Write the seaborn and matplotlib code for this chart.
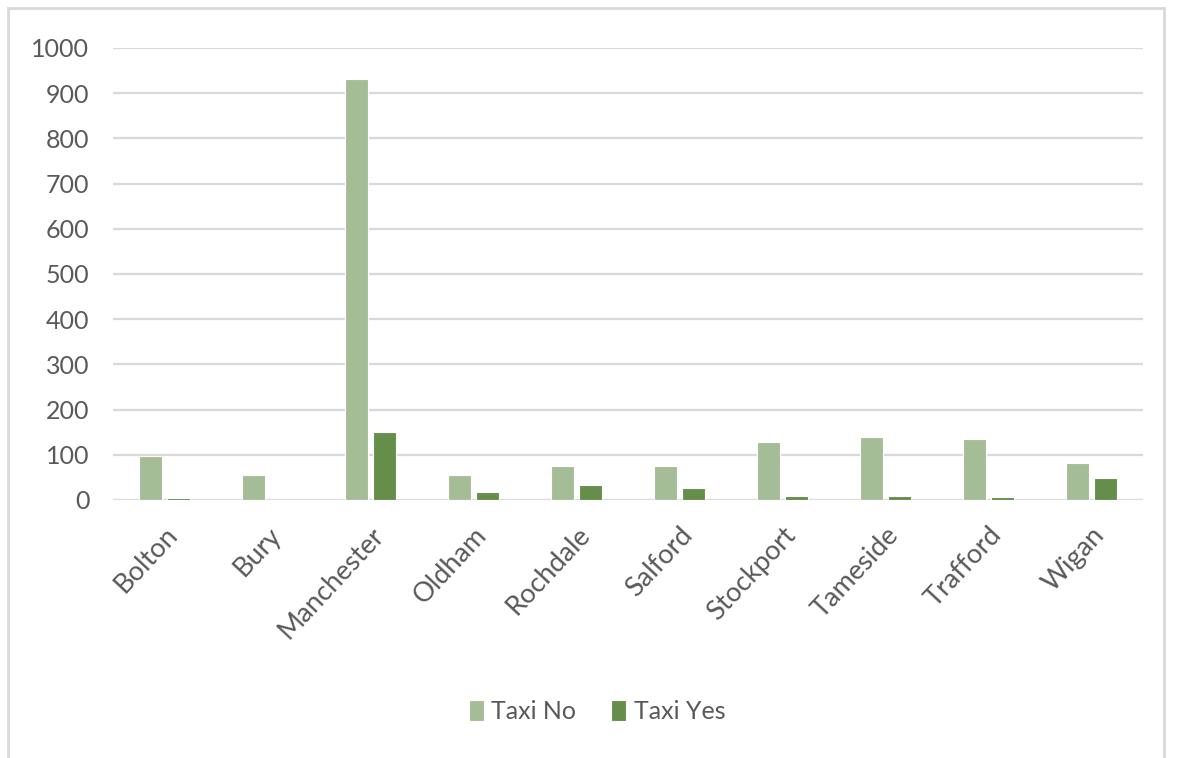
import matplotlib
matplotlib.use("Agg")
import matplotlib.pyplot as plt
from matplotlib.patches import Rectangle
import seaborn as sns
import pandas as pd

# Data
districts = ["Bolton", "Bury", "Manchester", "Oldham", "Rochdale",
             "Salford", "Stockport", "Tameside", "Trafford", "Wigan"]
taxi_no = [97, 55, 932, 55, 75, 75, 128, 139, 135, 82]
taxi_yes = [4, 0, 150, 18, 33, 26, 9, 9, 6, 48]
series = ["Taxi No", "Taxi Yes"]
colors = ["#A3C48F", "#62993D"]


def build_frame():
    """Long-form table for seaborn."""
    rows = []
    for name, no, yes in zip(districts, taxi_no, taxi_yes):
        rows.append({"district": name, "series": series[0], "count": no})
        rows.append({"district": name, "series": series[1], "count": yes})
    return pd.DataFrame(rows)


df = build_frame()

sns.set_theme(style="white")
plt.rcParams["font.family"] = ["Lato", "DejaVu Sans"]

fig = plt.figure(figsize=(11.82, 7.58), dpi=100)
ax = fig.add_axes([0.0956, 0.3404, 0.8714, 0.5963])

sns.barplot(data=df, x="district", y="count", hue="series",
            hue_order=series, palette=colors, width=0.55, gap=0.2,
            edgecolor="white", linewidth=0.8, ax=ax, legend=True)

ax.set_ylim(0, 1000)
ax.set_yticks(range(0, 1001, 100))
ax.set_xlim(-0.5, len(districts) - 0.5)
ax.yaxis.grid(True, color="#D9D9D9", linewidth=1.6)
ax.set_axisbelow(True)
for side in ["top", "right", "left", "bottom"]:
    ax.spines[side].set_visible(False)
ax.set_xlabel("")
ax.set_ylabel("")

ax.tick_params(axis="y", length=0, pad=17, labelsize=18, labelcolor="#595959")
ax.tick_params(axis="x", length=0, pad=16, labelsize=19.5, labelcolor="#595959")
for lab in ax.get_xticklabels():
    lab.set_rotation(47)
    lab.set_ha("right")
    lab.set_va("top")
    lab.set_rotation_mode("anchor")

# legend at bottom centre
handles, labels = ax.get_legend_handles_labels()
ax.legend_.remove()
fig.legend(handles, labels, loc="center", bbox_to_anchor=(0.505, 0.061),
           ncol=2, frameon=False, fontsize=18, labelcolor="#595959",
           handlelength=0.6, handleheight=0.9, handletextpad=0.3,
           columnspacing=1.4)

# light chart border
fig.patches.append(Rectangle((0.007, -0.01), 0.978, 1.0, transform=fig.transFigure,
                             fill=False, edgecolor="#D9D9D9", linewidth=2))

fig.savefig("out.png", dpi=100)
